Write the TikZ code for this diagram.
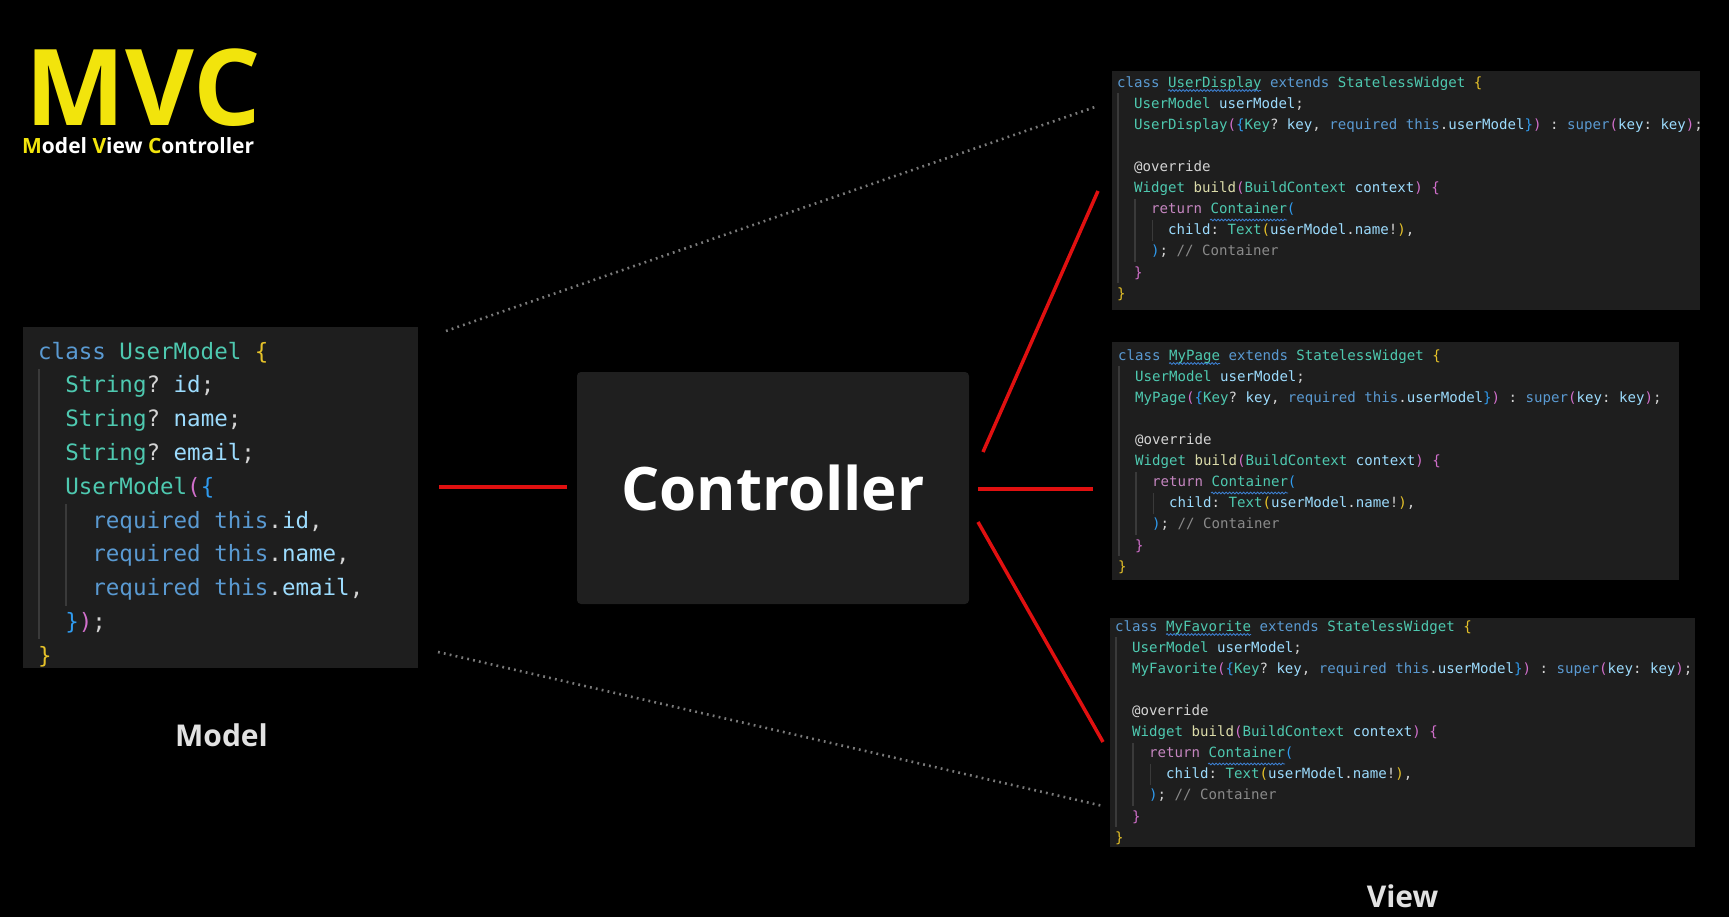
\documentclass[tikz,border=0pt]{standalone}
\usepackage{fontspec}
\setmainfont{Open Sans}
\newfontfamily\codefont{DejaVu Sans Mono}
\usetikzlibrary{decorations.pathmorphing}
\definecolor{panelbg}{HTML}{1E1E1E}
\definecolor{ctrlbg}{HTML}{1F1F1F}
\definecolor{kwc}{HTML}{5A9AD2}
\definecolor{tyc}{HTML}{4EC9B0}
\definecolor{varc}{HTML}{9CDCFE}
\definecolor{goc}{HTML}{E6C229}
\definecolor{pkc}{HTML}{D16FCB}
\definecolor{bbc}{HTML}{2F9BEF}
\definecolor{fnc}{HTML}{DCDCAA}
\definecolor{puc}{HTML}{C586C0}
\definecolor{cmc}{HTML}{8A8A8A}
\definecolor{whc}{HTML}{D4D4D4}
\definecolor{guidec}{HTML}{3A3A3A}
\definecolor{wavc}{HTML}{3C7FD0}
\definecolor{mvcyellow}{HTML}{F2E40C}
\definecolor{redc}{HTML}{E01010}
\definecolor{dotc}{HTML}{7A7A7A}
\definecolor{labc}{HTML}{E2E2E2}
\newcommand\ckw[1]{\textcolor{kwc}{#1}}
\newcommand\cty[1]{\textcolor{tyc}{#1}}
\newcommand\cvar[1]{\textcolor{varc}{#1}}
\newcommand\cgo[1]{\textcolor{goc}{#1}}
\newcommand\cpk[1]{\textcolor{pkc}{#1}}
\newcommand\cbb[1]{\textcolor{bbc}{#1}}
\newcommand\cfn[1]{\textcolor{fnc}{#1}}
\newcommand\cpu[1]{\textcolor{puc}{#1}}
\newcommand\ccm[1]{\textcolor{cmc}{#1}}
\newcommand\cwh[1]{\textcolor{whc}{#1}}
\newcommand\indA{\hspace*{1.2042em}}
\newcommand\indB{\hspace*{2.4084em}}
\newcommand\indC{\hspace*{3.6126em}}
\tikzset{
  panel/.style={fill=panelbg, draw=none, inner sep=0pt},
  ctrlbox/.style={fill=ctrlbg, draw=none, rounded corners=4pt, inner sep=0pt,
    text=white, font=\fontsize{60}{60}\selectfont\bfseries},
  smallcode/.style={anchor=north west, inner sep=0pt, align=left, text=whc,
    font=\codefont\fontsize{14.1}{21.1}\selectfont\frenchspacing},
  bigcode/.style={anchor=north west, inner sep=0pt, align=left, text=whc,
    font=\codefont\fontsize{22.5}{33.8}\selectfont\frenchspacing},
  redline/.style={draw=redc, line width=3.5pt},
  dotline/.style={draw=dotc, line width=2.6pt, dash pattern=on 1.8pt off 4.2pt},
  guide/.style={draw=guidec, line width=1.1pt},
  wavy/.style={draw=wavc, line width=0.8pt, decorate, decoration={snake, amplitude=0.9pt, segment length=3.5pt}},
  biglabel/.style={anchor=base, inner sep=0pt, text=labc, font=\fontsize{30}{30}\selectfont\bfseries},
}
\begin{document}
\begin{tikzpicture}[x=1pt, y=-1pt]
\fill[black] (0,0) rectangle (1729,917);
\useasboundingbox (0,0) rectangle (1729,917);

% title
\node[anchor=base west, inner sep=0pt, text=mvcyellow, font=\fontsize{106}{106}\selectfont\bfseries] (mvc) at (25,126) {MVC};
\node[anchor=base west, inner sep=0pt, text=white, font=\fontsize{21}{21}\selectfont\bfseries] (sub) at (22,154)
  {\textcolor{mvcyellow}{M}odel \textcolor{mvcyellow}{V}iew \textcolor{mvcyellow}{C}ontroller};

% boxes
\node[panel, minimum width=395pt, minimum height=341pt] (model) at (220.5,497.5) {};
\node[ctrlbox, minimum width=392pt, minimum height=232pt] (ctrl) at (773,488) {Controller};
\node[panel, minimum width=588pt, minimum height=239pt] (ud) at (1406,190.5) {};
\node[panel, minimum width=567pt, minimum height=238pt] (mp) at (1395.5,461) {};
\node[panel, minimum width=585pt, minimum height=229pt] (mf) at (1402.5,732.5) {};

% indent guides
\draw[guide] (39,369) -- (39,639);
\draw[guide] (66,504) -- (66,606);
\draw[guide] (1118,93.3) -- (1118,283.2);
\draw[guide] (1135,198.8) -- (1135,262.1);
\draw[guide] (1152.5,219.9) -- (1152.5,241);
\draw[guide] (1119,366.3) -- (1119,556.2);
\draw[guide] (1136,471.8) -- (1136,535.1);
\draw[guide] (1153.5,492.9) -- (1153.5,514);
\draw[guide] (1116,637.3) -- (1116,827.2);
\draw[guide] (1133,742.8) -- (1133,806.1);
\draw[guide] (1150.5,763.9) -- (1150.5,785);

% wavy underlines
\draw[wavy] (1168,90.5) -- (1261,90.5);
\draw[wavy] (1210,220) -- (1287,220);
\draw[wavy] (1169,363.5) -- (1220,363.5);
\draw[wavy] (1211,493) -- (1288,493);
\draw[wavy] (1166,634.5) -- (1251,634.5);
\draw[wavy] (1208,764) -- (1285,764);

% model code
\node[bigcode] (mcode) at (38,335.3) {%
\strut\ckw{class} \cty{UserModel} \cgo{\{}\\
\strut\indA\cty{String}\cwh{?} \cvar{id}\cwh{;}\\
\strut\indA\cty{String}\cwh{?} \cvar{name}\cwh{;}\\
\strut\indA\cty{String}\cwh{?} \cvar{email}\cwh{;}\\
\strut\indA\cty{UserModel}\cpk{(}\cbb{\{}\\
\strut\indB\ckw{required this}\cwh{.}\cvar{id}\cwh{,}\\
\strut\indB\ckw{required this}\cwh{.}\cvar{name}\cwh{,}\\
\strut\indB\ckw{required this}\cwh{.}\cvar{email}\cwh{,}\\
\strut\indA\cbb{\}}\cpk{)}\cwh{;}\\
\strut\cgo{\}}};

% UserDisplay code
\node[smallcode] (udcode) at (1117,72.2) {%
\strut\ckw{class} \cty{UserDisplay} \ckw{extends} \cty{StatelessWidget} \cgo{\{}\\
\strut\indA\cty{UserModel} \cvar{userModel}\cwh{;}\\
\strut\indA\cty{UserDisplay}\cpk{(}\cbb{\{}\cty{Key}\cwh{?} \cvar{key}\cwh{,} \ckw{required this}\cwh{.}\cvar{userModel}\cbb{\}}\cpk{)} \cwh{:} \ckw{super}\cpk{(}\cvar{key}\cwh{:} \cvar{key}\cpk{)}\cwh{;}\\
\strut\\
\strut\indA\cwh{@override}\\
\strut\indA\cty{Widget} \cfn{build}\cpk{(}\cty{BuildContext} \cvar{context}\cpk{)} \cpk{\{}\\
\strut\indB\cpu{return} \cty{Container}\cbb{(}\\
\strut\indC\cvar{child}\cwh{:} \cty{Text}\cgo{(}\cvar{userModel}\cwh{.}\cvar{name}\cwh{!}\cgo{)}\cwh{,}\\
\strut\indB\cbb{)}\cwh{;} \ccm{// Container}\\
\strut\indA\cpk{\}}\\
\strut\cgo{\}}};

% MyPage code
\node[smallcode] (mpcode) at (1118,345.2) {%
\strut\ckw{class} \cty{MyPage} \ckw{extends} \cty{StatelessWidget} \cgo{\{}\\
\strut\indA\cty{UserModel} \cvar{userModel}\cwh{;}\\
\strut\indA\cty{MyPage}\cpk{(}\cbb{\{}\cty{Key}\cwh{?} \cvar{key}\cwh{,} \ckw{required this}\cwh{.}\cvar{userModel}\cbb{\}}\cpk{)} \cwh{:} \ckw{super}\cpk{(}\cvar{key}\cwh{:} \cvar{key}\cpk{)}\cwh{;}\\
\strut\\
\strut\indA\cwh{@override}\\
\strut\indA\cty{Widget} \cfn{build}\cpk{(}\cty{BuildContext} \cvar{context}\cpk{)} \cpk{\{}\\
\strut\indB\cpu{return} \cty{Container}\cbb{(}\\
\strut\indC\cvar{child}\cwh{:} \cty{Text}\cgo{(}\cvar{userModel}\cwh{.}\cvar{name}\cwh{!}\cgo{)}\cwh{,}\\
\strut\indB\cbb{)}\cwh{;} \ccm{// Container}\\
\strut\indA\cpk{\}}\\
\strut\cgo{\}}};

% MyFavorite code
\node[smallcode] (mfcode) at (1115,616.2) {%
\strut\ckw{class} \cty{MyFavorite} \ckw{extends} \cty{StatelessWidget} \cgo{\{}\\
\strut\indA\cty{UserModel} \cvar{userModel}\cwh{;}\\
\strut\indA\cty{MyFavorite}\cpk{(}\cbb{\{}\cty{Key}\cwh{?} \cvar{key}\cwh{,} \ckw{required this}\cwh{.}\cvar{userModel}\cbb{\}}\cpk{)} \cwh{:} \ckw{super}\cpk{(}\cvar{key}\cwh{:} \cvar{key}\cpk{)}\cwh{;}\\
\strut\\
\strut\indA\cwh{@override}\\
\strut\indA\cty{Widget} \cfn{build}\cpk{(}\cty{BuildContext} \cvar{context}\cpk{)} \cpk{\{}\\
\strut\indB\cpu{return} \cty{Container}\cbb{(}\\
\strut\indC\cvar{child}\cwh{:} \cty{Text}\cgo{(}\cvar{userModel}\cwh{.}\cvar{name}\cwh{!}\cgo{)}\cwh{,}\\
\strut\indB\cbb{)}\cwh{;} \ccm{// Container}\\
\strut\indA\cpk{\}}\\
\strut\cgo{\}}};

% labels
\node[biglabel] (mlab) at (221.5,746) {Model};
\node[biglabel] (vlab) at (1402.5,907) {View};

% connector end points
\coordinate (m-e) at (439,487);
\coordinate (c-w) at (567,487);
\coordinate (c-e) at (978,489);
\coordinate (mp-w) at (1093,489);
\coordinate (c-ne) at (983,452);
\coordinate (ud-w) at (1098,191);
\coordinate (c-se) at (978,522);
\coordinate (mf-w) at (1103,742);
\coordinate (m-ne) at (446,331);
\coordinate (ud-nw) at (1095,107);
\coordinate (m-se) at (438,652);
\coordinate (mf-nw) at (1103,806);

% red connectors
\draw[redline] (m-e) -- (c-w);
\draw[redline] (c-e) -- (mp-w);
\draw[redline] (c-ne) -- (ud-w);
\draw[redline] (c-se) -- (mf-w);

% dotted connectors
\draw[dotline] (m-ne) -- (ud-nw);
\draw[dotline] (m-se) -- (mf-nw);
\end{tikzpicture}
\end{document}
